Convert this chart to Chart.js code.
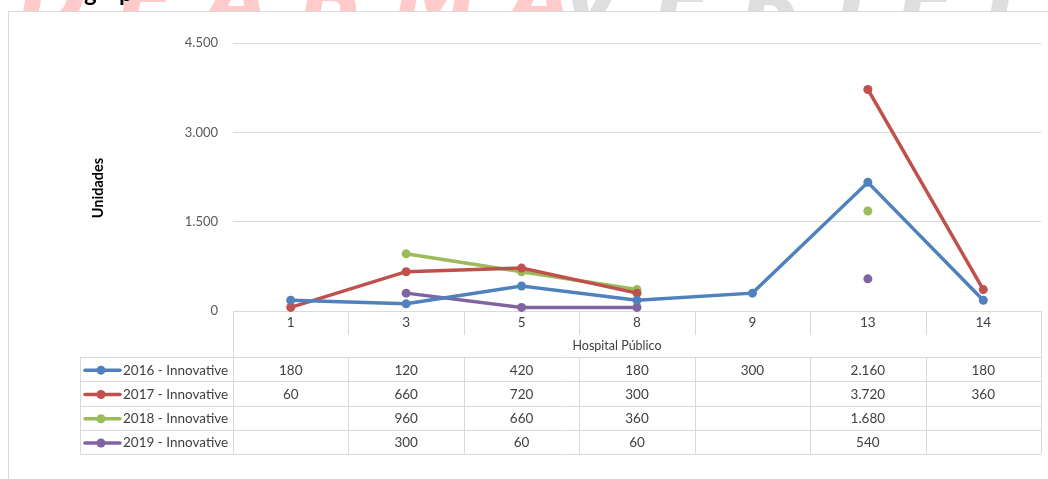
<!DOCTYPE html>
<html><head><meta charset="utf-8">
<script src="https://cdn.jsdelivr.net/npm/chart.js@4/dist/chart.umd.min.js"></script>
<style>
html,body{margin:0;padding:0;background:#fff;overflow:hidden}
#wrap{position:relative;width:1048px;height:479px}
#wm{position:absolute;left:0;top:0;width:1048px;height:11px;overflow:hidden;z-index:2;white-space:nowrap}
.big{position:absolute;top:-50px;font-size:84px;letter-spacing:30px;font-family:"DejaVu Sans",sans-serif;font-weight:bold;font-style:italic}
.ttl{position:absolute;top:-22px;font:bold 24px Lato,sans-serif;line-height:28px;color:#000}
</style></head><body>
<div id="wrap">
<div id="wm"><div class="big" style="left:18px;color:#ffcaca">DEABMA</div><div class="big" style="left:560px;color:#dedede">VERIFIED</div><div class="ttl" style="left:84px">g</div><div class="ttl" style="left:119px">p</div></div>
<canvas id="c" width="1048" height="479"></canvas>
</div>
<script>
const categories = ["1","3","5","8","9","13","14"];
const seriesNames = ["2016 - Innovative","2017 - Innovative","2018 - Innovative","2019 - Innovative"];
const s2016 = [180,120,420,180,300,2160,180];
const s2017 = [60,660,720,300,null,3720,360];
const s2018 = [null,960,660,360,null,1680,null];
const s2019 = [null,300,60,60,null,540,null];
const colors = ["#4F81BD","#C0504D","#9BBB59","#8064A2"];
const yTicks = [0,1500,3000,4500];
const xTitle = "Hospital Público";
const yTitle = "Unidades";

function fmt(v){return String(v).replace(/\B(?=(\d{3})+(?!\d))/g,".");}
const FONT = "Lato, 'Open Sans', sans-serif";
const GRID = "#d9d9d9";

const tablePlugin = {
  id:"dataTable",
  beforeDraw(chart){
    const ctx = chart.ctx;
    ctx.save();
    ctx.strokeStyle = GRID; ctx.lineWidth = 1;
    ctx.strokeRect(8.5, 11.5, 1200, 600);
    ctx.restore();
  },
  beforeDatasetsDraw(chart){
    const ctx = chart.ctx, x = chart.scales.x, a = chart.chartArea;
    const L = 80, top = a.bottom, catBottom = top + 24, rowsTop = top + 46, rowH = 24.3;
    const n = categories.length;
    const colW = (a.right - a.left)/n;
    const nRows = seriesNames.length;
    const bottom = rowsTop + rowH*nRows;
    ctx.save();
    ctx.fillStyle = "#000";
    ctx.font = "bold 14.5px " + FONT;
    ctx.textAlign = "center"; ctx.textBaseline = "middle";
    ctx.translate(98, 188); ctx.rotate(-Math.PI/2); ctx.fillText(yTitle, 0, 0);
    ctx.setTransform(1,0,0,1,0,0);
    ctx.strokeStyle = GRID; ctx.lineWidth = 1;
    const h = (y,x1,x2)=>{ctx.beginPath();ctx.moveTo(x1,Math.round(y)+0.5);ctx.lineTo(x2,Math.round(y)+0.5);ctx.stroke();};
    const v = (xx,y1,y2)=>{ctx.beginPath();ctx.moveTo(Math.round(xx)+0.5,y1);ctx.lineTo(Math.round(xx)+0.5,y2);ctx.stroke();};
    h(top, a.left, a.right);
    for(let r=0;r<=nRows;r++) h(rowsTop + r*rowH, L, a.right);
    v(L, rowsTop, bottom);
    v(a.left, top, bottom);
    v(a.right, top, bottom);
    for(let k=1;k<n;k++){
      const xx = a.left + colW*k;
      v(xx, top, catBottom);
      v(xx, rowsTop, bottom);
    }
    ctx.fillStyle = "#404040";
    ctx.font = "13.5px " + FONT;
    categories.forEach((c,i)=>{ ctx.fillText(c, x.getPixelForValue(i), top + 12); });
    ctx.font = "12.5px " + FONT;
    ctx.fillText(xTitle, 617, top + 35);
    ctx.font = "13.5px " + FONT;
    chart.data.datasets.forEach((ds,r)=>{
      const cy = rowsTop + rowH*r + rowH/2 + 1;
      ds.data.forEach((val,i)=>{
        if(val!==null && val!==undefined) ctx.fillText(fmt(val), x.getPixelForValue(i), cy);
      });
      ctx.strokeStyle = ds.borderColor; ctx.lineWidth = 3.5; ctx.lineCap = "round";
      ctx.beginPath(); ctx.moveTo(85, cy); ctx.lineTo(120, cy); ctx.stroke();
      ctx.fillStyle = ds.borderColor;
      ctx.beginPath(); ctx.arc(101, cy, 4.5, 0, Math.PI*2); ctx.fill();
      ctx.fillStyle = "#404040"; ctx.textAlign = "left";
      ctx.fillText(ds.label, 123, cy);
      ctx.textAlign = "center";
    });
    ctx.restore();
  }
};

const series = [s2016, s2017, s2018, s2019];
new Chart(document.getElementById("c"), {
  type:"line",
  data:{
    labels: categories,
    datasets: series.map((d,i)=>({
      label: seriesNames[i], data: d,
      borderColor: colors[i], backgroundColor: colors[i],
      borderWidth: 3.5, pointRadius: 4.5, pointHoverRadius: 4.5,
      pointBorderWidth: 0, tension: 0, spanGaps: false, clip: false
    }))
  },
  options:{
    responsive:false, animation:false,
    layout:{padding:{left:88, top:43, right:7, bottom:168}},
    plugins:{legend:{display:false}, tooltip:{enabled:false}},
    scales:{
      x:{display:false, offset:true},
      y:{
        min:0, max:4500,
        afterBuildTicks(s){ s.ticks = yTicks.map(v=>({value:v})); },
        afterFit(s){ s.width = 145; },
        border:{display:false},
        grid:{color:GRID, lineWidth:1, drawTicks:false},
        ticks:{padding:15, color:"#595959", font:{family:FONT, size:13}, callback:(v)=>fmt(v)},
        title:{display:false}
      }
    }
  },
  plugins:[tablePlugin]
});
</script>
</body></html>
